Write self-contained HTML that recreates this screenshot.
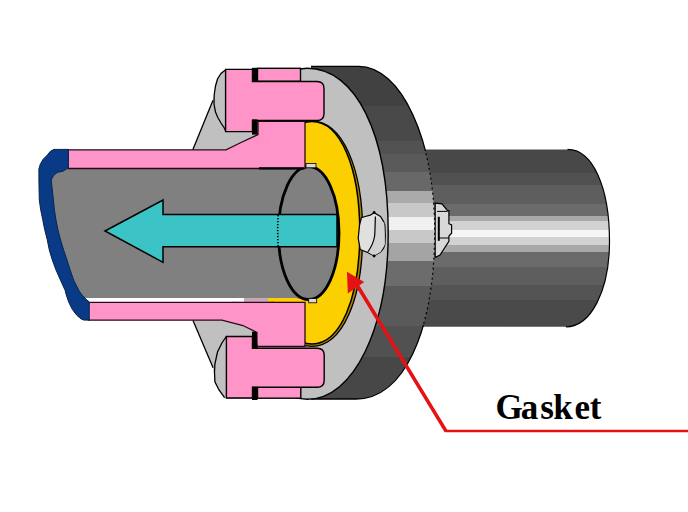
<!DOCTYPE html>
<html><head><meta charset="utf-8"><style>
html,body{margin:0;padding:0;background:#fff;width:688px;height:512px;overflow:hidden}
svg{display:block}
.t{font-family:"Liberation Serif",serif;font-weight:bold;font-size:35px;fill:#000}
</style></head><body>
<svg width="688" height="512" viewBox="0 0 688 512">
<defs>
<linearGradient id="gpipe" gradientUnits="userSpaceOnUse" x1="0" y1="149" x2="0" y2="328"><stop offset="0.0000" stop-color="#484848"/><stop offset="0.1341" stop-color="#484848"/><stop offset="0.1341" stop-color="#515151"/><stop offset="0.1994" stop-color="#515151"/><stop offset="0.1994" stop-color="#5e5e5e"/><stop offset="0.3084" stop-color="#5e5e5e"/><stop offset="0.3084" stop-color="#6b6b6b"/><stop offset="0.3743" stop-color="#6b6b6b"/><stop offset="0.3743" stop-color="#a8a8a8"/><stop offset="0.4045" stop-color="#a8a8a8"/><stop offset="0.4045" stop-color="#d2d2d2"/><stop offset="0.4508" stop-color="#d2d2d2"/><stop offset="0.4508" stop-color="#f6f6f6"/><stop offset="0.4944" stop-color="#f6f6f6"/><stop offset="0.4944" stop-color="#d2d2d2"/><stop offset="0.5352" stop-color="#d2d2d2"/><stop offset="0.5352" stop-color="#a8a8a8"/><stop offset="0.5765" stop-color="#a8a8a8"/><stop offset="0.5765" stop-color="#6b6b6b"/><stop offset="0.6592" stop-color="#6b6b6b"/><stop offset="0.6592" stop-color="#5e5e5e"/><stop offset="0.7581" stop-color="#5e5e5e"/><stop offset="0.7581" stop-color="#545454"/><stop offset="0.8453" stop-color="#545454"/><stop offset="0.8453" stop-color="#4a4a4a"/><stop offset="1.0000" stop-color="#4a4a4a"/></linearGradient>
<linearGradient id="grim" gradientUnits="userSpaceOnUse" x1="0" y1="66" x2="0" y2="400"><stop offset="0.0000" stop-color="#414141"/><stop offset="0.1192" stop-color="#414141"/><stop offset="0.1192" stop-color="#494949"/><stop offset="0.2231" stop-color="#494949"/><stop offset="0.2231" stop-color="#525252"/><stop offset="0.2647" stop-color="#525252"/><stop offset="0.2647" stop-color="#5a5a5a"/><stop offset="0.3174" stop-color="#5a5a5a"/><stop offset="0.3174" stop-color="#686868"/><stop offset="0.3757" stop-color="#686868"/><stop offset="0.3757" stop-color="#aaaaaa"/><stop offset="0.4108" stop-color="#aaaaaa"/><stop offset="0.4108" stop-color="#c8c8c8"/><stop offset="0.4521" stop-color="#c8c8c8"/><stop offset="0.4521" stop-color="#f0f0f0"/><stop offset="0.4904" stop-color="#f0f0f0"/><stop offset="0.4904" stop-color="#c8c8c8"/><stop offset="0.5311" stop-color="#c8c8c8"/><stop offset="0.5311" stop-color="#a4a4a4"/><stop offset="0.5838" stop-color="#a4a4a4"/><stop offset="0.5838" stop-color="#6c6c6c"/><stop offset="0.6599" stop-color="#6c6c6c"/><stop offset="0.6599" stop-color="#5a5a5a"/><stop offset="0.7784" stop-color="#5a5a5a"/><stop offset="0.7784" stop-color="#515151"/><stop offset="0.8725" stop-color="#515151"/><stop offset="0.8725" stop-color="#474747"/><stop offset="1.0000" stop-color="#474747"/></linearGradient>
<clipPath id="noPipe"><path d="M0 0 H688 V512 H0 Z M420 151 V325 H700 V151 Z" clip-rule="evenodd"/></clipPath>
<clipPath id="inPipe"><rect x="420" y="151" width="280" height="174"/></clipPath>
</defs>
<rect width="688" height="512" fill="#fff"/>
<path d="M420 149.4 L567.5 149.4 C592.6 149.4 609.5 186.9 609.5 241.3 C609.5 290.8 590.8 326.8 565.9 326.8 L420 326.8 Z" fill="url(#gpipe)"/>
<path d="M567.5 149.4 C592.6 149.4 609.5 186.9 609.5 241.3 C609.5 290.8 590.8 326.8 565.9 326.8" fill="none" stroke="#000" stroke-width="1.2"/>
<path d="M311 66.4 L358.6 66.4 C401.5 66.4 434.7 139.7 434.7 231.3 C434.7 332.8 403.1 399 356.3 399 L311 399 Z" fill="url(#grim)"/>
<path d="M311 66.4 L358.6 66.4 C401.5 66.4 434.7 139.7 434.7 231.3 C434.7 332.8 403.1 399 356.3 399 L311 399" fill="none" stroke="#000" stroke-width="1.3" clip-path="url(#noPipe)"/>
<path d="M311 66.4 L358.6 66.4 C401.5 66.4 434.7 139.7 434.7 231.3 C434.7 332.8 403.1 399 356.3 399 L311 399" fill="none" stroke="#000" stroke-width="1.2" stroke-dasharray="2 3" clip-path="url(#inPipe)"/>
<path d="M307.3 68.3 C355.76 68.3 388.2 134.26 388.2 232.8 C388.2 328.04 353.57 399.3 307.3 399.3 A80.9 165.5 0 0 1 307.3 68.3 Z" fill="#c0c0c0" stroke="#000" stroke-width="1.4"/>
<path d="M312 121.2 C342.01 121.2 362.7 167.14 362.7 233.8 C362.7 300.46 342.01 346.4 312 346.4 C281.99 346.4 261.3 300.46 261.3 233.8 C261.3 167.14 281.99 121.2 312 121.2 Z" fill="#b08400" stroke="#000" stroke-width="1.3"/>
<path d="M312 121.4 C340.3 121.4 359.8 166.81 359.8 232.7 C359.8 298.59 340.3 344 312 344 C283.7 344 264.2 298.59 264.2 232.7 C264.2 166.81 283.7 121.4 312 121.4 Z" fill="#fccf00" stroke="#000" stroke-width="1.5"/>
<path d="M308.7 166.7 C325.76 166.7 339 195.72 339 233.1 C339 270.48 325.76 299.5 308.7 299.5 C291.64 299.5 278.4 270.48 278.4 233.1 C278.4 195.72 291.64 166.7 308.7 166.7 Z" fill="#808080"/>
<path d="M226 69.5 L221 73.5 L217.5 79 L215.5 86 L214.2 95 L213 100.3 L192.8 149.8 L226 149.8 L240 143 L258 134.6 L258 69.5 Z" fill="#c0c0c0"/>
<path d="M213 100.3 L192.8 149.8" stroke="#000" stroke-width="1.3" fill="none"/>
<path d="M226 69.5 L221 73.5 L217.5 79 L215.5 86 L214.2 95 L214 104 L215.5 112 L217.8 117.5 L221 123 L224 127.5 L226 131.6" stroke="#000" stroke-width="1.3" fill="none"/>
<path d="M192.9 320.2 L222 320.2 L243 325.5 L255.3 331.7 L258 331.7 L258 399 L226 399 L224.6 397.6 L219 390 L214.9 381.8 L213.6 372 L213.1 367.7 Z" fill="#c0c0c0"/>
<path d="M192.9 320.2 L213.1 367.7" stroke="#000" stroke-width="1.3" fill="none"/>
<path d="M226.3 336.5 L221.9 343 L217.5 352 L214.9 364.2 L214.5 372 L214.9 381.8 L219 390 L224.6 397.6" stroke="#000" stroke-width="1.3" fill="none"/>
<path d="M68.3 167.6 L63.5 171 L57.4 172.4 L53.3 175.8 L51.2 180 L52.3 190 L53.4 200 L54.4 209.8 L55.9 219.5 L57.8 229.3 L60.3 239 L63.6 250 L67 260 L70.2 270 L73.7 280.2 L78.8 290.3 L82 295 L85.4 298.5 L86.5 299.5 L87 298.5 L309 298.5 L309 168 Z" fill="#808080"/>
<rect x="86" y="298" width="158" height="3.8" fill="#fff"/>
<rect x="244" y="298" width="24" height="3.8" fill="#c8a8b4"/>
<rect x="268" y="298" width="29" height="3.8" fill="#fccf00"/>
<path d="M308.7 166.7 C325.76 166.7 339 195.72 339 233.1 C339 270.48 325.76 299.5 308.7 299.5 C291.64 299.5 278.4 270.48 278.4 233.1 C278.4 195.72 291.64 166.7 308.7 166.7 Z" fill="none" stroke="#000" stroke-width="2.8"/>
<path d="M68 149.8 L226 149.8 L240 143 L258 134.6 L258 121.4 L305 121.4 L305 168.5 L68 168.5 Z" fill="#ff94c8" stroke="#2a0a18" stroke-width="1.3"/>
<path d="M88.5 302.3 L305 302.3 L305 346.5 L257 346.5 L255.3 331.7 L243 325.5 L222 320.2 L88.5 320.2 Z" fill="#ff94c8" stroke="#2a0a18" stroke-width="1.3"/>
<path d="M259 168.4 L304 168.4" stroke="#000" stroke-width="2.2"/>
<rect x="306" y="163.5" width="10" height="4.3" fill="#d8d8d8" stroke="#000" stroke-width="0.8"/>
<rect x="308.7" y="298.6" width="8" height="4.2" fill="#d8d8d8" stroke="#000" stroke-width="0.8"/>
<rect x="257.5" y="68.3" width="43" height="13" fill="#ff94c8" stroke="#000" stroke-width="1.4"/>
<path d="M225.6 69.4 L252.5 69.4 L252.5 81.5 L317 81.5 Q324 81.5 324 88.5 L324 113.5 Q324 120.5 317 120.5 L252.5 120.5 L252.5 131.6 L225.6 131.6 Z" fill="#ff94c8" stroke="#000" stroke-width="1.4"/>
<rect x="252" y="67.8" width="5.5" height="14.2" fill="#000"/>
<rect x="252" y="119.4" width="5.5" height="15.2" fill="#000"/>
<rect x="257.5" y="387.2" width="43.3" height="11" fill="#ff94c8" stroke="#000" stroke-width="1.4"/>
<path d="M226.4 336.5 L252.5 336.5 L252.5 348.3 L317.2 348.3 Q324.2 348.3 324.2 355.3 L324.2 380.2 Q324.2 387.2 317.2 387.2 L252.5 387.2 L252.5 398 L226.4 398 Z" fill="#ff94c8" stroke="#000" stroke-width="1.4"/>
<rect x="252" y="331.7" width="5.5" height="17" fill="#000"/>
<rect x="252" y="386.8" width="5.5" height="13.2" fill="#000"/>
<path d="M53.9 149.4 L50.5 151.2 L47.1 155.3 L43 159.4 L40.3 164.2 L38.9 168.9 L38.9 180 L39.3 200 L40.7 209.8 L42.7 219.5 L44.6 229.3 L47.1 239 L49.3 250 L52.3 260 L56 270 L60.5 280.2 L65.1 290.3 L66.3 295 L68.8 302.3 L72.4 309.5 L76.8 315.3 L81.2 319 L84 320.1 L89.2 320.1 L89.2 302 L86.5 299.5 L85.4 298.5 L82 295 L78.8 290.3 L73.7 280.2 L70.2 270 L67 260 L63.6 250 L60.3 239 L57.8 229.3 L55.9 219.5 L54.4 209.8 L53.4 200 L52.3 190 L51.2 180 L53.3 175.8 L57.4 172.4 L63.5 171 L68.3 167.6 L68.3 149.4 Z" fill="#083a86" stroke="#06224a" stroke-width="1"/>
<path d="M105 231 L163 200 L163 214.5 L337 214.5 L337 246.8 L163 246.8 L163 262.3 Z" fill="#3cc3c6" stroke="#000" stroke-width="1.5"/>
<path d="M278.2 215 Q277.2 230.5 278.2 246.5" stroke="#000" stroke-width="1.6" stroke-dasharray="1.4 1.6" fill="none"/>
<path d="M361.4 217.8 L365.2 216.5 L370.3 215.2 L374.1 212.7 L380.5 216.5 L383.6 221.6 L384.9 225.4 L385.3 235.5 L384.9 244.4 L383.6 248.2 L380.5 252 L374.1 255.8 L366.5 252 L360.2 249.5 L358.2 238.1 L359.5 225.4 Z" fill="#e0e0e0" stroke="#000" stroke-width="1.2"/>
<path d="M375.4 216.5 L384.2 223 L384.9 244.4 L380.5 252 L374.1 255.8 L367.8 252 Q374.5 242 374.7 235.5 Z" fill="#d2d2d2"/>
<path d="M375.4 216.5 Q375 230 374.7 235.5 Q373.5 244 367.8 252" stroke="#000" stroke-width="1.2" fill="none"/>
<circle cx="374.1" cy="212.5" r="1.4" fill="#000"/><circle cx="374.1" cy="256" r="1.4" fill="#000"/>
<path d="M435.2 203.2 L442 203.9 L447.5 210.7 L448.9 210.7 L448.9 223.7 L451.6 225 L451.6 233.2 L448.9 236 L448.9 241.4 L440 255 L436 257.1 L435.2 257.1 Z" fill="#d8d8d8" stroke="#000" stroke-width="1.2"/>
<rect x="437.8" y="216.8" width="2" height="24" fill="#000"/>
<path d="M437 211.4 L447.5 211.4 M439 238 L449 238" stroke="#000" stroke-width="1"/>
<path d="M688 431 L446 431" fill="none" stroke="#e41212" stroke-width="2.6"/>
<path d="M357 285 L446.3 431.6" fill="none" stroke="#e41212" stroke-width="3.6"/>
<path d="M347 271.7 L347.8 293.6 L364.2 281.9 Z" fill="#e41212"/>
<text class="t" y="419"><tspan x="495.5">G</tspan><tspan x="520.7">a</tspan><tspan x="540.2">s</tspan><tspan x="553.2">k</tspan><tspan x="574.4">e</tspan><tspan x="589.8">t</tspan></text>
</svg>
</body></html>
